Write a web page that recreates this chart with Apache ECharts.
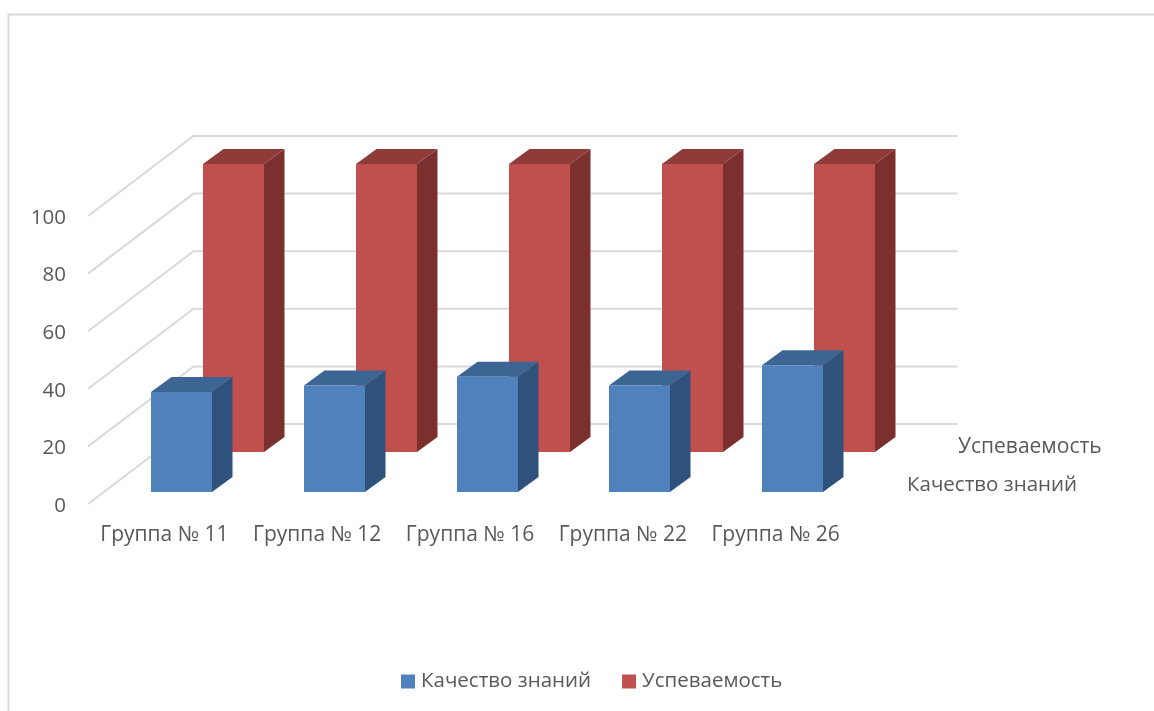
<!DOCTYPE html>
<html>
<head>
<meta charset="utf-8">
<script src="https://cdn.jsdelivr.net/npm/echarts@6/dist/echarts.min.js"></script>
<style>html,body{margin:0;padding:0;background:#fff}#c{width:1154px;height:711px}</style>
</head>
<body>
<div id="c"></div>
<script>
const categories = ['Группа № 11','Группа № 12','Группа № 16','Группа № 22','Группа № 26'];
const qualityName = 'Качество знаний';
const successName = 'Успеваемость';
const qualityValues = [34.7, 37, 40, 37, 44];
const successValues = [100, 100, 100, 100, 100];
const yTicks = [0, 20, 40, 60, 80, 100];

const FONT = '"Open Sans", "Noto Sans", sans-serif';
const TEXT = '#595959';
const WALL = [105.5, -80];

function wallItem(params, api) {
  const v = api.value(0);
  const p = api.coord([0, v]);
  const band = api.size([1, 0])[0];
  const x0 = p[0] - band / 2, y0 = p[1];
  const x1 = x0 + WALL[0], y1 = y0 + WALL[1];
  const x2 = x1 + band * categories.length;
  return {
    type: 'polyline',
    shape: { points: [[x0, y0], [x1, y1], [x2, y1]] },
    style: { stroke: '#d9d9d9', lineWidth: 2, fill: null }
  };
}

function barRenderer(offX, offY, colors) {
  return function (params, api) {
    const top = api.coord([api.value(0), api.value(1)]);
    const base = api.coord([api.value(0), 0]);
    const w = 61, dx = 20.5, dy = -15;
    const l = Math.round(top[0] + offX - w / 2), r = l + w;
    const t = top[1] + offY, b = base[1] + offY;
    return {
      type: 'group',
      children: [
        { type: 'polygon', shape: { points: [[r, t], [r + dx, t + dy], [r + dx, b + dy], [r, b]] }, style: { fill: colors.side } },
        { type: 'polygon', shape: { points: [[l, t], [l + dx, t + dy], [r + dx, t + dy], [r, t]] }, style: { fill: colors.top } },
        { type: 'rect', shape: { x: l, y: t, width: w, height: b - t }, style: { fill: colors.front } }
      ]
    };
  };
}

const chart = echarts.init(document.getElementById('c'), null, { renderer: 'canvas' });
chart.setOption({
  animation: false,
  backgroundColor: '#fff',
  textStyle: { fontFamily: FONT },
  grid: { left: 88, width: 764, top: 216, height: 288 },
  xAxis: {
    type: 'category',
    data: categories,
    axisLine: { show: false },
    axisTick: { show: false },
    axisLabel: { color: TEXT, fontSize: 21, fontFamily: FONT, margin: 21, interval: 0 }
  },
  yAxis: {
    type: 'value',
    min: 0,
    max: 100,
    interval: 20,
    axisLine: { show: false },
    axisTick: { show: false },
    splitLine: { show: false },
    axisLabel: {
      color: TEXT, fontSize: 20.5, fontFamily: FONT, margin: 22,
      formatter: '{a|{value}}',
      rich: { a: { color: TEXT, fontSize: 20.5, fontFamily: FONT, padding: [4, 0, 0, 0] } }
    }
  },
  legend: {
    data: [qualityName, successName],
    left: 401,
    top: 671,
    padding: 0,
    itemWidth: 14,
    itemHeight: 14,
    itemGap: 31,
    icon: 'rect',
    textStyle: { color: TEXT, fontSize: 20.5, fontFamily: FONT, padding: [0, 0, 0, 1] }
  },
  graphic: [
    { type: 'polyline', silent: true, shape: { points: [[8.5, 711], [8.5, 14.5], [1154, 14.5]] }, style: { stroke: '#d9d9d9', lineWidth: 2, fill: null } },
    { type: 'text', left: 958, top: 437, style: { text: successName, fill: TEXT, font: '21px ' + FONT } },
    { type: 'text', left: 907, top: 475, style: { text: qualityName, fill: TEXT, font: '20.5px ' + FONT } }
  ],
  series: [
    {
      type: 'custom', name: 'wall', silent: true, z: 1,
      data: yTicks.map(v => [v]),
      encode: { y: 0 },
      renderItem: wallItem
    },
    {
      type: 'custom', name: successName, z: 2,
      itemStyle: { color: '#c0504d' },
      data: successValues.map((v, i) => [i, v]),
      encode: { x: 0, y: 1 },
      renderItem: barRenderer(69.2, -52, { front: '#c0504d', side: '#7c302e', top: '#8f3b39' })
    },
    {
      type: 'custom', name: qualityName, z: 3,
      itemStyle: { color: '#4f81bd' },
      data: qualityValues.map((v, i) => [i, v]),
      encode: { x: 0, y: 1 },
      renderItem: barRenderer(17, -12, { front: '#4f81bd', side: '#2f527c', top: '#3d6594' })
    }
  ]
});
</script>
</body>
</html>
